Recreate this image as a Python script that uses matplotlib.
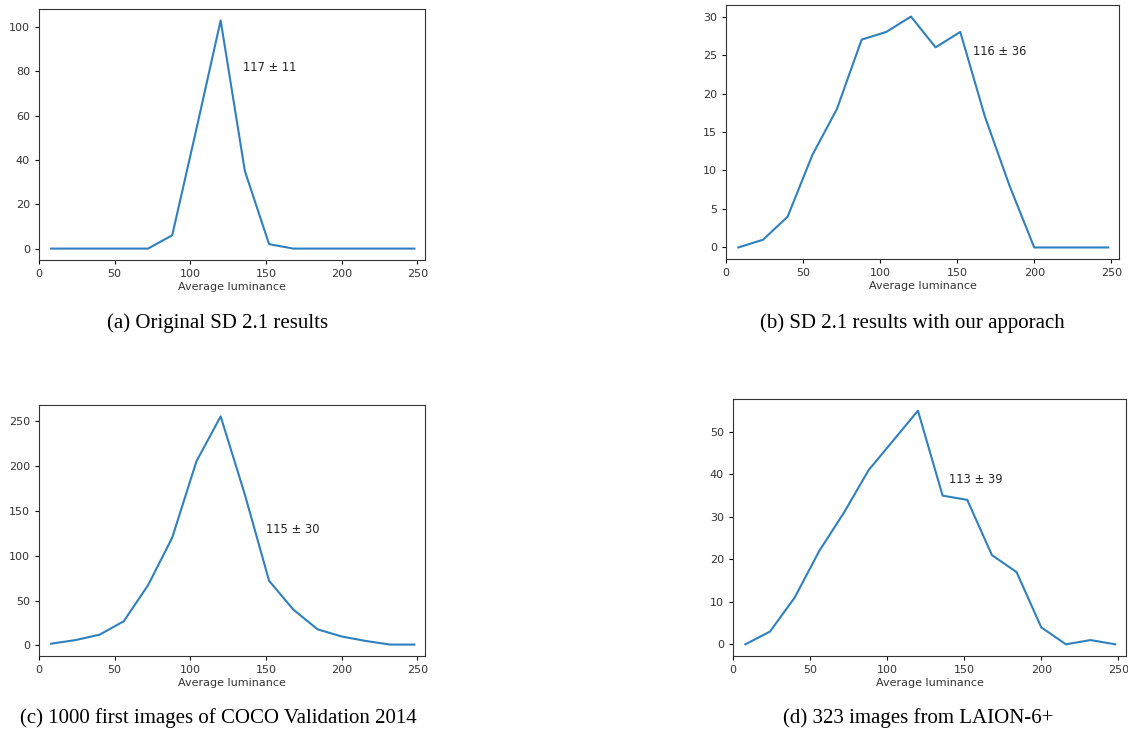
import matplotlib.pyplot as plt

# bin centres of the luminance histograms
lum = [8, 24, 40, 56, 72, 88, 104, 120, 136, 152, 168, 184, 200, 216, 232, 248]

sd21_orig = [0, 0, 0, 0, 0, 6, 54, 103, 35, 2, 0, 0, 0, 0, 0, 0]
sd21_ours = [0, 1, 4, 12, 18, 27, 28, 30, 26, 28, 17, 8, 0, 0, 0, 0]
coco_val = [2, 6, 12, 27, 67, 120, 205, 255, 168, 72, 40, 18, 10, 5, 1, 1]
laion = [0, 3, 11, 22, 31, 41, 48, 55, 35, 34, 21, 17, 4, 0, 1, 0]

stats = ['117 ± 11', '116 ± 36', '115 ± 30', '113 ± 39']
text_pos = [(135, 80), (160, 25), (150, 125), (140, 38)]
captions = ['(a) Original SD 2.1 results',
            '(b) SD 2.1 results with our apporach',
            '(c) 1000 first images of COCO Validation 2014',
            '(d) 323 images from LAION-6+']

W, H = 1128, 729
fig = plt.figure(figsize=(W / 100, H / 100), dpi=100)

# axes boxes in pixels: left, top, right, bottom
boxes = [(39, 9, 425, 260), (726, 5, 1119, 259),
         (39, 405, 425, 656), (733, 399, 1126, 656)]
caption_xy = [(218, 323), (912, 323), (218, 718), (918, 718)]

for i, counts in enumerate([sd21_orig, sd21_ours, coco_val, laion]):
    l, t, r, b = boxes[i]
    ax = fig.add_axes([l / W, 1 - b / H, (r - l) / W, (b - t) / H])
    ax.plot(lum, counts, color='#2f80be', lw=1.5)
    ax.set_xlim(0, 255)
    ax.set_xticks([0, 50, 100, 150, 200, 250])
    ax.set_xlabel('Average luminance', fontsize=8, color='#333333', labelpad=2)
    ax.tick_params(labelsize=8, labelcolor='#333333', length=3)
    for s in ax.spines.values():
        s.set_color('#333333')
        s.set_linewidth(0.8)
    tx, ty = text_pos[i]
    ax.text(tx, ty, stats[i], fontsize=8.3, color='#222222')
    cx, cy = caption_xy[i]
    fig.text(cx / W, 1 - cy / H, captions[i], ha='center', va='center',
             fontsize=15, family='Liberation Serif')

fig.savefig('out.png', dpi=100)
